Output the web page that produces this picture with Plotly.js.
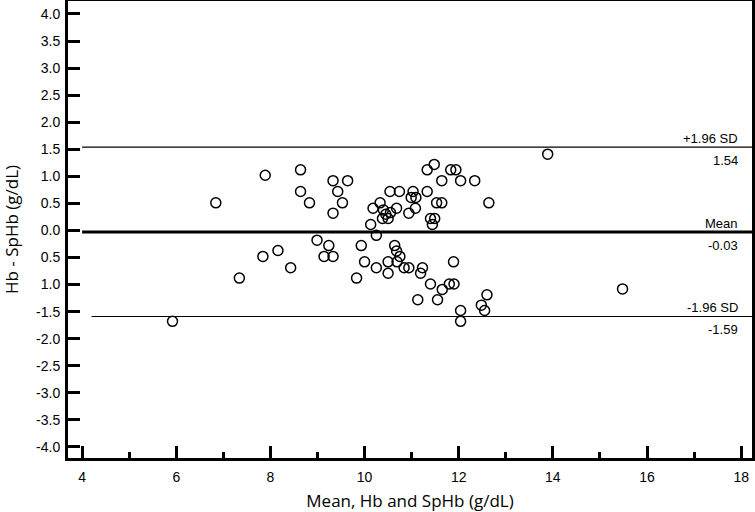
<!DOCTYPE html>
<html>
<head>
<meta charset="utf-8">
<script src="https://cdn.plot.ly/plotly-3.0.1.min.js"></script>
<style>
  html, body { margin: 0; padding: 0; background: #fff; }
  #graph { width: 755px; height: 512px; }
</style>
</head>
<body>
<div id="graph"></div>
<script>
// Bland-Altman data: mean of Hb and SpHb vs difference
const meanHb = [
  5.92, 7.89, 6.84, 7.84, 7.34, 8.16,
  8.64, 8.64, 8.83, 9.33, 9.64, 9.43, 9.53, 9.33, 10.33, 10.18,
  10.40, 10.45, 10.55, 10.38, 10.50, 10.68, 10.54, 10.74, 10.13, 11.03,
  10.99, 11.09, 10.94, 11.08, 11.33, 11.48, 11.33, 11.53, 11.64, 11.64,
  11.83, 11.94, 12.04, 12.34, 12.64, 11.40, 11.49, 11.44,
  10.25, 8.43, 8.99, 9.24, 9.14, 9.33, 9.93, 9.83, 10.00, 10.25,
  10.50, 10.50, 10.64, 10.68, 10.75, 10.69, 10.84, 10.94, 11.23, 11.19,
  11.89, 11.13, 11.40, 11.55, 11.65, 11.80, 11.90, 12.04, 12.04, 12.60,
  12.48, 12.55, 13.89, 15.48
];
const diffHb = [
  -1.68, 1.02, 0.51, -0.48, -0.88, -0.37,
  1.12, 0.72, 0.51, 0.92, 0.92, 0.72, 0.51, 0.32, 0.51, 0.41,
  0.38, 0.30, 0.33, 0.22, 0.22, 0.41, 0.72, 0.72, 0.11, 0.72,
  0.61, 0.61, 0.32, 0.41, 1.12, 1.22, 0.72, 0.51, 0.51, 0.92,
  1.12, 1.12, 0.92, 0.92, 0.51, 0.22, 0.22, 0.11,
  -0.09, -0.69, -0.18, -0.28, -0.48, -0.48, -0.28, -0.88, -0.58, -0.69,
  -0.58, -0.79, -0.28, -0.38, -0.48, -0.58, -0.69, -0.69, -0.69, -0.79,
  -0.58, -1.28, -0.99, -1.28, -1.09, -0.99, -0.99, -1.48, -1.68, -1.19,
  -1.38, -1.48, 1.41, -1.08
];

// Limits of agreement
const limitNames = ['+1.96 SD', 'Mean', '-1.96 SD'];
const limitValues = [1.54, -0.03, -1.59];
const limitStart = [4, 4, 4.2];
const limitWidths = [1.2, 3, 1.2];

const yTickVals = [4, 3.5, 3, 2.5, 2, 1.5, 1, 0.5, 0, -0.5, -1, -1.5, -2, -2.5, -3, -3.5, -4];
const yTickText = ['4.0', '3.5', '3.0', '2.5', '2.0', '1.5', '1.0', '0.5', '0.0', '0.5', '1.0',
                   '-1.5', '-2.0', '-2.5', '-3.0', '-3.5', '-4.0'];

const points = {
  x: meanHb,
  y: diffHb,
  mode: 'markers',
  type: 'scatter',
  marker: { symbol: 'circle-open', size: 10, color: '#000', line: { width: 1.5, color: '#000' } },
  hoverinfo: 'x+y'
};

const shapes = limitValues.map((v, i) => ({
  type: 'line', xref: 'x', yref: 'y',
  x0: limitStart[i], x1: 18.23, y0: v, y1: v,
  line: { color: '#000', width: limitWidths[i] }
}));

const labelFont = { family: 'Liberation Sans, Arial, sans-serif', size: 13, color: '#000' };
const annotations = [];
limitValues.forEach((v, i) => {
  annotations.push({
    xref: 'paper', yref: 'y', x: 0.983, y: v, xanchor: 'right', yanchor: 'bottom',
    text: limitNames[i], showarrow: false, yshift: -1, font: labelFont
  });
  annotations.push({
    xref: 'paper', yref: 'y', x: 0.983, y: v, xanchor: 'right', yanchor: 'top',
    text: v.toFixed(2), showarrow: false, yshift: -4, font: labelFont
  });
});

const tickFont = { family: 'Liberation Sans, Arial, sans-serif', size: 14, color: '#000' };
const titleFont = { family: 'Open Sans, Noto Sans, sans-serif', size: 17, color: '#000' };

const layout = {
  width: 755,
  height: 512,
  margin: { l: 68, r: 3, t: 1, b: 54 },
  paper_bgcolor: '#fff',
  plot_bgcolor: '#fff',
  showlegend: false,
  xaxis: {
    range: [3.7, 18.23],
    tickvals: [4, 6, 8, 10, 12, 14, 16, 18],
    ticks: 'inside', ticklen: 12, tickwidth: 3, tickcolor: '#000',
    minor: { dtick: 1, ticks: 'inside', ticklen: 6, tickwidth: 3, tickcolor: '#000' },
    showgrid: false, zeroline: false,
    showline: true, linecolor: '#000', linewidth: 3, mirror: true,
    tickfont: tickFont, ticklabelstandoff: 4,
    title: { text: 'Mean, Hb and SpHb (g/dL)', font: titleFont, standoff: 14 }
  },
  yaxis: {
    range: [-4.205, 4.24],
    tickvals: yTickVals,
    ticktext: yTickText,
    ticks: 'inside', ticklen: 12, tickwidth: 3, tickcolor: '#000',
    showgrid: false, zeroline: false,
    showline: true, linecolor: '#000', linewidth: 3, mirror: true,
    tickfont: tickFont, ticklabelstandoff: 2,
    title: { text: 'Hb - SpHb (g/dL)', font: titleFont, standoff: 14 }
  },
  shapes: shapes,
  annotations: annotations
};

Plotly.newPlot('graph', [points], layout, { displayModeBar: false, staticPlot: true });
</script>
</body>
</html>
